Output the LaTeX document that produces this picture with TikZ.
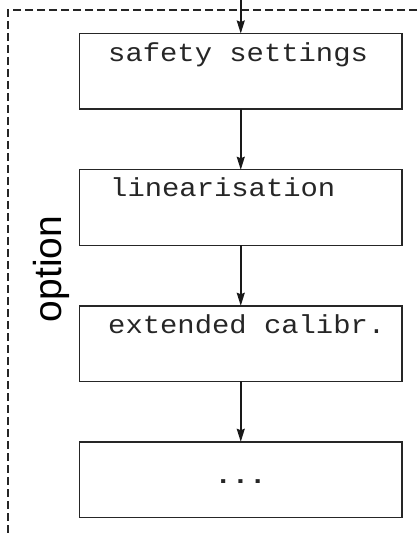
\documentclass[tikz,border=0pt]{standalone}
\usepackage{fontspec}
\setmainfont{Liberation Sans}
\newfontfamily\lcdfont[FakeStretch=1.11]{Liberation Mono}
\usetikzlibrary{arrows.meta}
\begin{document}
\begin{tikzpicture}[x=1pt,y=-1pt,
  box/.style={draw=black!85, line width=1.5pt, minimum width=322.5pt, minimum height=75.5pt, inner sep=0pt, outer sep=0pt},
  lcd/.style={font=\lcdfont\fontsize{26}{26}\selectfont, text=black!85, inner sep=0pt},
  arr/.style={draw=black!90, line width=1.5pt, -{Stealth[length=13pt,width=8pt,inset=1.5pt]}},
  frame/.style={draw=black!85, line width=1.2pt, dash pattern=on 8pt off 4pt}]
\path[use as bounding box] (0,0) rectangle (417,534);
% dashed frame
\coordinate (fr) at (417,10);
\coordinate (fc) at (8,10);
\coordinate (fb) at (8,534);
\draw[frame] (fr) -- (fc) -- (fb);
% boxes
\node[box] (b1) at (240.75,71.25) {};
\node[box] (b2) at (240.75,207.5) {};
\node[box] (b3) at (240.75,343.5) {};
\node[box] (b4) at (240.75,479.5) {};
% texts
\node[lcd, anchor=base west] (t1) at (108,62) {safety settings};
\node[lcd, anchor=base west] (t2) at (110,197) {linearisation};
\node[lcd, anchor=base west] (t3) at (108,333) {extended calibr.};
\node[lcd, anchor=base, font=\lcdfont\bfseries\fontsize{26}{26}\selectfont] (t4) at (240.5,483) {...};
% option label
\node[font=\fontsize{39}{39}\selectfont, rotate=90, inner sep=0pt] (opt) at (51,269) {option};
% arrows
\coordinate (in) at (240.75,0);
\draw[arr] (in) -- (b1);
\draw[arr] (b1) -- (b2);
\draw[arr] (b2) -- (b3);
\draw[arr] (b3) -- (b4);
\end{tikzpicture}
\end{document}
